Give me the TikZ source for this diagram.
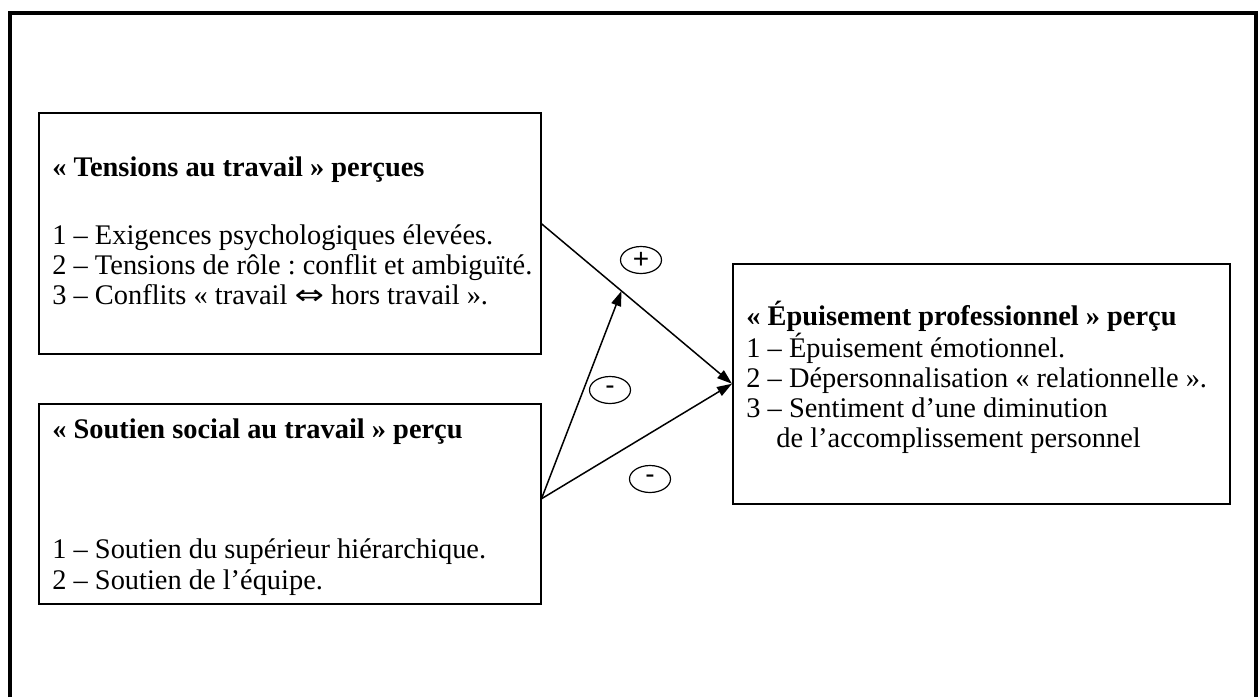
\documentclass[tikz,border=0pt]{standalone}
\usepackage{fontspec}
\setmainfont{Liberation Serif}
\newfontfamily\signfont{Liberation Sans}
\newfontfamily\symfont{DejaVu Sans}
\usetikzlibrary{calc,arrows.meta,shapes.geometric}
\frenchspacing
\begin{document}
\begin{tikzpicture}[x=0.5pt,y=-0.5pt,
  box/.style={draw,line width=0.75pt,inner sep=0pt,anchor=north west},
  txt/.style={anchor=base west,inner sep=0pt,align=left,font=\fontsize{14.2}{14.9}\selectfont},
  ttl/.style={txt,font=\fontsize{14.2}{14.9}\selectfont\bfseries},
  conn/.style={line width=0.75pt,-{Triangle[length=7.5pt,width=5pt]}},
  sign/.style={draw,ellipse,line width=0.6pt,minimum width=20.5pt,minimum height=13.5pt,inner sep=0pt,font=\signfont\fontsize{14}{14}\selectfont}]
\useasboundingbox (0,0) rectangle (1258,697);
\draw[line width=2pt] (10,697) -- (10,12.5) -- (1256,12.5) -- (1256,697);
% boxes
\node[box,minimum width=251pt,minimum height=120.5pt] (b1) at (38,112) {};
\node[box,minimum width=251pt,minimum height=100pt] (b2) at (38,403) {};
\node[box,minimum width=248.5pt,minimum height=120pt] (b3) at (732,263) {};
% box 1 text (base = last line)
\node[ttl] (t1) at (52,176) {« Tensions au travail » perçues};
\node[txt] (t1l) at (52,304) {1 – Exigences psychologiques élevées.\\
2 – Tensions de rôle : conflit et ambiguïté.\\
3 – Conflits « travail {\symfont\fontsize{11}{11}\selectfont\scalebox{1.6}[1.25]{⇔}} hors travail ».};
% box 2 text
\node[ttl] (t2) at (52,438) {« Soutien social au travail » perçu};
\node[txt,font=\fontsize{14.2}{15.4}\selectfont] (t2l) at (52,589) {1 – Soutien du supérieur hiérarchique.\\
2 – Soutien de l’équipe.};
% box 3 text
\node[txt] (t3) at (746,447) {\textbf{« Épuisement professionnel » perçu}\\
1 – Épuisement émotionnel.\\
2 – Dépersonnalisation « relationnelle ».\\
3 – Sentiment d’une diminution\\
\hspace*{15pt}de l’accomplissement personnel};
% connectors
\coordinate (s1) at ($(b1.east)+(0,-9.5)$);
\coordinate (s2) at ($(b2.east)+(0,-5)$);
\coordinate (m) at ($(s1)!0.42!(b3.west)$);
\draw[conn] (s1) -- (b3.west);
\draw[conn] (s2) -- (b3.west);
\draw[conn] (s2) -- (m);
% signs
\node[sign] (p1) at (641,260) {+};
\node[sign] (n1) at (610,390) {-};
\node[sign] (n2) at (650,479) {-};
\end{tikzpicture}
\end{document}
